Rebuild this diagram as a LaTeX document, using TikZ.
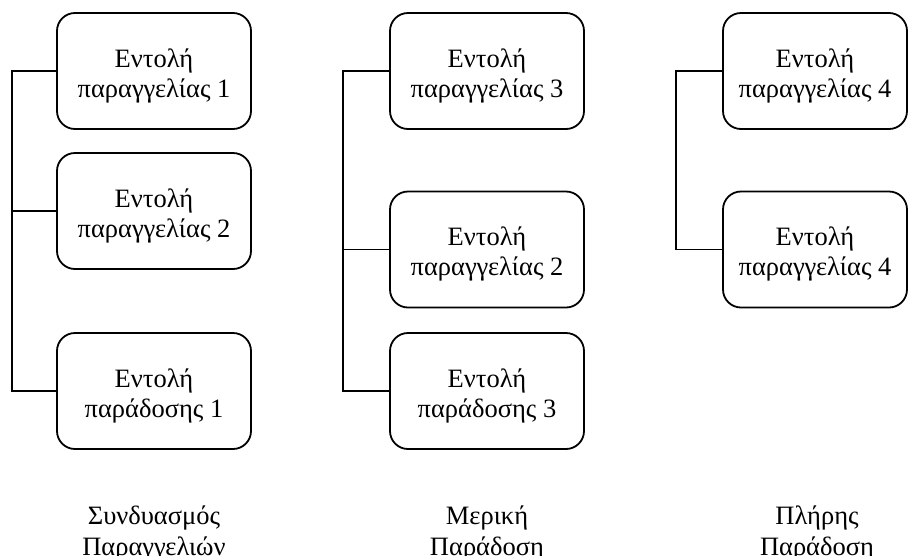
\documentclass[tikz,border=0pt]{standalone}
\usepackage{fontspec}
\setmainfont{Liberation Serif}
\usetikzlibrary{calc}

% raises the first line so the two-line text sits a little low in its box
\newcommand{\lnstrut}{\rule{0pt}{28pt}}

\tikzset{
  orderbox/.style={draw=black, line width=1.8pt, rounded corners=18pt,
    minimum height=116pt, align=center, inner sep=0pt,
    font=\fontsize{26.5}{30}\selectfont},
  colwide/.style={orderbox, minimum width=194pt},
  colnarrow/.style={orderbox, minimum width=184pt},
  link/.style={draw=black, line width=1.3pt},
  caption/.style={align=center, inner sep=0pt,
    font=\fontsize{26.5}{31}\selectfont}
}

\begin{document}
\begin{tikzpicture}[x=1pt, y=-1pt]
  \useasboundingbox[fill=white] (0,0) rectangle (908,555);

  % combined orders
  \node[colwide] (a1) at (154,71)  {\lnstrut Εντολή\\παραγγελίας 1};
  \node[colwide] (a2) at (154,211) {\lnstrut Εντολή\\παραγγελίας 2};
  \node[colwide] (a3) at (154,391) {\lnstrut Εντολή\\παράδοσης 1};
  \coordinate (ka) at (12,0);
  \draw[link] (a1.west) -| (ka |- a3.west) -- (a3.west);
  \draw[link] (a2.west) -- (ka |- a2.west);
  \node[caption] (ca) at (154,533) {Συνδυασμός\\Παραγγελιών};

  % partial delivery
  \node[colwide] (b1) at (487,71)    {\lnstrut Εντολή\\παραγγελίας 3};
  \node[colwide] (b2) at (487,249.5) {\lnstrut Εντολή\\παραγγελίας 2};
  \node[colwide] (b3) at (487,391)   {\lnstrut Εντολή\\παράδοσης 3};
  \coordinate (kb) at (343,0);
  \draw[link] (b1.west) -| (kb |- b3.west) -- (b3.west);
  \draw[link] (b2.west) -- (kb |- b2.west);
  \node[caption] (cb) at (487,533) {Μερική\\Παράδοση};

  % full delivery
  \node[colnarrow] (c1) at (815,71)    {\lnstrut Εντολή\\παραγγελίας 4};
  \node[colnarrow] (c2) at (815,249.5) {\lnstrut Εντολή\\παραγγελίας 4};
  \coordinate (kc) at (676,0);
  \draw[link] (c1.west) -| (kc |- c2.west) -- (c2.west);
  \node[caption] (cc) at (817,533) {Πλήρης\\Παράδοση};
\end{tikzpicture}
\end{document}
